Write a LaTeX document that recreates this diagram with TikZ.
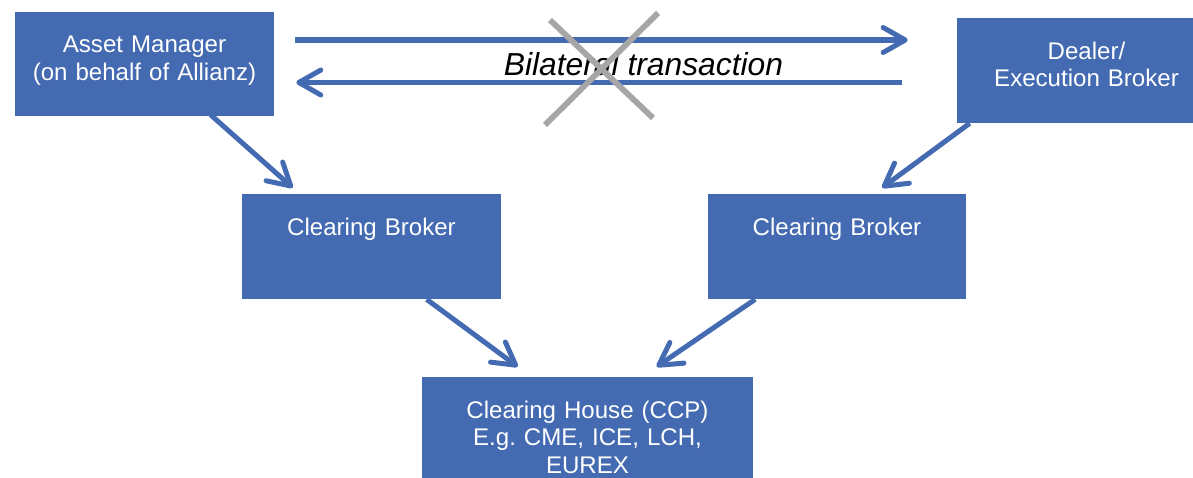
\documentclass[tikz,border=0pt]{standalone}
\usepackage{fontspec}
\setmainfont{Liberation Sans}
\usetikzlibrary{positioning, calc, arrows.meta}
\definecolor{boxblue}{RGB}{68,106,178}
\definecolor{crossgray}{RGB}{166,166,166}
\frenchspacing

\begin{document}
\begin{tikzpicture}[
  x=0.02cm, y=-0.02cm,
  box/.style={fill=boxblue, inner sep=0pt, text width=5.18cm, align=center, text height=0.82cm, text depth=1.28cm, text=white, font=\fontsize{13.7}{15.9}\selectfont},
  arrow/.style={draw=boxblue, line width=2.85pt, -{Straight Barb[length=0.44cm, width=0.5cm, round]}}
]
  \useasboundingbox (0,0) rectangle (1193,477);

  \node[box] (am) at (144.5, 64) {Asset Manager\\(on behalf of Allianz)};
  \node[box] (dealer) at (1086.5, 70.5) {Dealer/\\Execution Broker};
  \node[box] (cbl) at (371.5, 246.5) {Clearing Broker};
  \node[box] (cbr) at (837, 246.5) {Clearing Broker};
  \node[box, text width=6.62cm] (ccp) at (587.5, 429.5) {Clearing House (CCP)\\E.g. CME, ICE, LCH,\\EUREX};

  \draw[arrow] ($(am.east)+(21,-24)$) -- ($(dealer.west)+(-49,-30.5)$);
  \draw[arrow] ($(dealer.west)+(-55,12)$) -- ($(am.east)+(22,18.5)$);
  \draw[arrow] ($(am.south west)+(196,-2)$) -- ($(cbl.north west)+(51,-6)$);
  \draw[arrow] ($(dealer.south west)+(13,0)$) -- ($(cbr.north west)+(175,-6)$);
  \draw[arrow] ($(cbl.south west)+(185,0)$) -- ($(ccp.north west)+(96,-10)$);
  \draw[arrow] ($(cbr.south west)+(48,0)$) -- ($(ccp.north west)+(235,-10)$);

  \node[anchor=base, font=\itshape\fontsize{18.1}{20}\selectfont] (bilat) at (643.5, 75) {Bilateral transaction};

  % crossed out
  \draw[crossgray, line width=3.3pt] (550,20) -- (653,118) (658,13) -- (545,125);
\end{tikzpicture}
\end{document}
